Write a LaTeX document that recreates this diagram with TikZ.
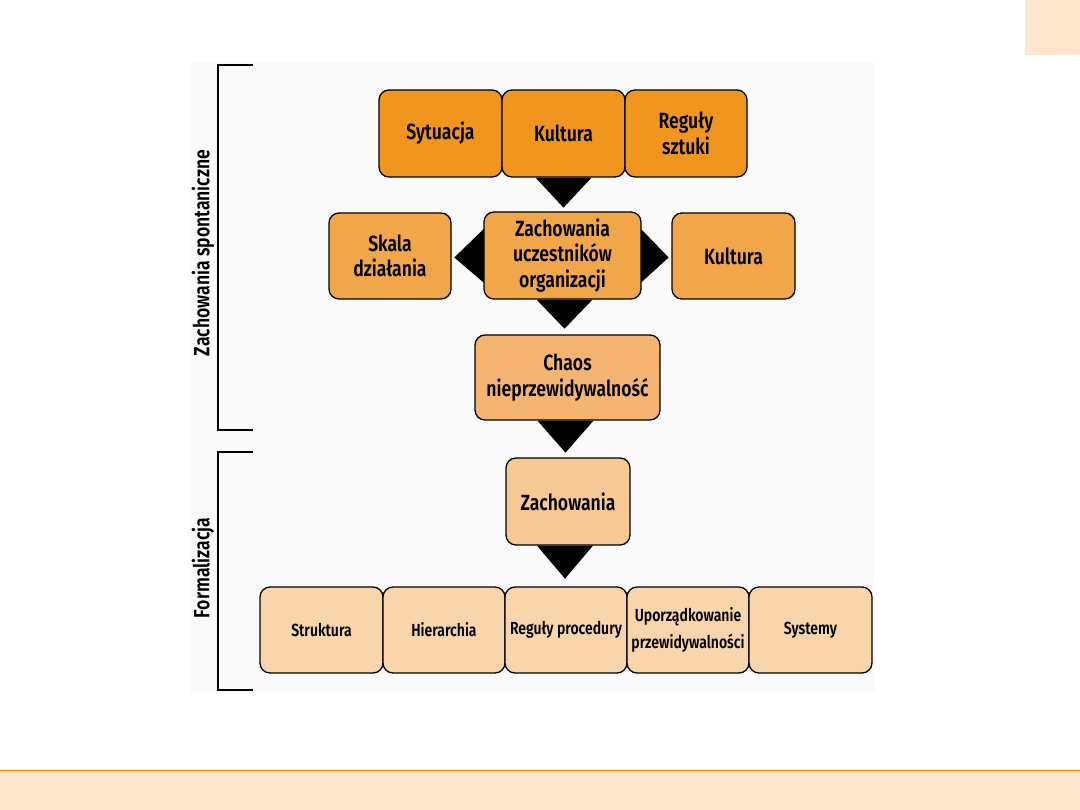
\documentclass[tikz,border=0pt]{standalone}
\usepackage{fontspec}
\setmainfont{Fira Sans}[FakeStretch=0.8, BoldFont={Fira Sans SemiBold}]
\usetikzlibrary{backgrounds,calc}
\definecolor{cA}{HTML}{F0961E}
\definecolor{cB}{HTML}{F2A64A}
\definecolor{cC}{HTML}{F4B472}
\definecolor{cD}{HTML}{F6C894}
\definecolor{cE}{HTML}{F8D5AA}
\definecolor{peach}{HTML}{FEE6CC}
\definecolor{bandline}{HTML}{FF8C00}
\tikzset{
  box/.style={draw=black, line width=1.3pt, rounded corners=10pt, align=center,
    font=\bfseries\fontsize{22}{25.5}\selectfont, inner sep=2pt},
  smallbox/.style={box, font=\bfseries\fontsize{17.5}{27}\selectfont},
  tri/.style={fill=black},
  brack/.style={draw=black, line width=1.6pt},
  side/.style={font=\bfseries\fontsize{22}{24}\selectfont, rotate=90}
}
\begin{document}
\begin{tikzpicture}[x=1pt,y=-1pt]
\useasboundingbox (0,0) rectangle (1080,810);
\begin{scope}[on background layer]
\fill[white] (0,0) rectangle (1080,810);
\fill[peach] (1025,0) rectangle (1080,55);
\fill[peach] (0,770) rectangle (1080,810);
\draw[bandline, line width=1pt] (0,770) -- (1080,770);
\fill[black!2] (190,62) rectangle (875,693);
\end{scope}
% top row
\node[box, fill=cA, minimum width=123pt, minimum height=87pt] (syt) at (440.5,133.5) {Sytuacja};
\node[box, fill=cA, minimum width=123pt, minimum height=87pt] (kul1) at (563.5,133.5) {Kultura};
\node[box, fill=cA, minimum width=122pt, minimum height=87pt] (reg) at (686,133.5) {Reguły\\sztuki};
% middle row
\node[box, fill=cB, minimum width=122pt, minimum height=86pt] (skala) at (390,256) {Skala\\działania};
\node[box, fill=cB, minimum width=157pt, minimum height=87pt] (zach1) at (562.5,255.5) {Zachowania\\uczestników\\organizacji};
\node[box, fill=cB, minimum width=123pt, minimum height=86pt] (kul2) at (733.5,256) {Kultura};
% chaos
\node[box, fill=cC, minimum width=185pt, minimum height=85pt] (chaos) at (567.5,377.5) {Chaos\\nieprzewidywalność};
% zachowania
\node[box, fill=cD, minimum width=124pt, minimum height=87pt] (zach2) at (568,501.5) {Zachowania};
% bottom row
\node[smallbox, fill=cE, minimum width=123pt, minimum height=86pt] (str) at (321.5,630) {Struktura};
\node[smallbox, fill=cE, minimum width=122pt, minimum height=86pt] (hier) at (444,630) {Hierarchia};
\node[smallbox, fill=cE, minimum width=122pt, minimum height=86pt] (regp) at (566,630) {Reguły procedury};
\node[smallbox, fill=cE, minimum width=122pt, minimum height=86pt] (upo) at (688,630) {Uporządkowanie\\przewidywalności};
\node[smallbox, fill=cE, minimum width=123pt, minimum height=86pt] (sys) at (810.5,630) {Systemy};
% triangles
\begin{scope}[on background layer]
\fill[tri] ($(kul1.south)+(-28,0)$) -- ($(kul1.south)+(28,0)$) -- ($(kul1.south)+(0,30)$) -- cycle;
\fill[tri] ($(zach1.south)+(-26,0)$) -- ($(zach1.south)+(30,0)$) -- ($(zach1.south)+(2,29)$) -- cycle;
\fill[tri] ($(zach1.west)+(6,-32)$) -- ($(zach1.west)+(6,32)$) -- ($(zach1.west)+(-29,2)$) -- cycle;
\fill[tri] ($(zach1.east)+(-6,-32)$) -- ($(zach1.east)+(-6,32)$) -- ($(zach1.east)+(27,2)$) -- cycle;
\fill[tri] ($(chaos.south)+(-30,0)$) -- ($(chaos.south)+(26,0)$) -- ($(chaos.south)+(-2,32)$) -- cycle;
\fill[tri] ($(zach2.south)+(-31,0)$) -- ($(zach2.south)+(25,0)$) -- ($(zach2.south)+(-3,33)$) -- cycle;
\end{scope}
% brackets
\coordinate (b1t) at (253,65);
\coordinate (b1b) at (253,430);
\coordinate (b2t) at (253,452);
\coordinate (b2b) at (253,690);
\draw[brack] (b1t) -- (218,65) -- (218,430) -- (b1b);
\draw[brack] (b2t) -- (218,452) -- (218,690) -- (b2b);
\node[side] (lab1) at (203,253) {Zachowania spontaniczne};
\node[side] (lab2) at (203,568) {Formalizacja};
\end{tikzpicture}
\end{document}
